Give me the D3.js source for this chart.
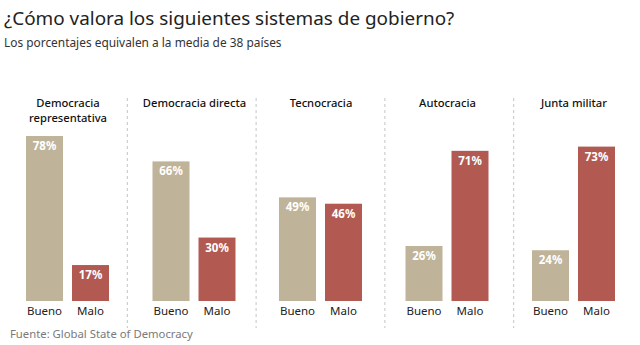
<!DOCTYPE html>
<html>
<head>
<meta charset="utf-8">
<script src="https://cdn.jsdelivr.net/npm/d3@7"></script>
<style>
  body { margin: 0; background: #fff; }
  text { font-family: "Noto Sans", sans-serif; }
</style>
</head>
<body>
<div id="chartContainer"></div>
<script>
// sistemas de gobierno: % que lo valora bueno / malo
const systems = ["Democracia representativa", "Democracia directa", "Tecnocracia", "Autocracia", "Junta militar"];
const titleLines = [["Democracia", "representativa"], ["Democracia directa"], ["Tecnocracia"], ["Autocracia"], ["Junta militar"]];
const ratings = ["Bueno", "Malo"];
const bueno = [78, 66, 49, 26, 24];
const malo = [17, 30, 46, 71, 73];

(function() {
    const fullWidth = 640;
    const fullHeight = 345;
    const colors = {Bueno: "#bfb399", Malo: "#b25a52"};

    const svg = d3.create("svg")
        .attr("width", fullWidth)
        .attr("height", fullHeight)
        .attr("viewBox", [0, 0, fullWidth, fullHeight]);

    // title + subtitle
    svg.append("text")
        .attr("x", 4)
        .attr("y", 25)
        .style("font-size", "18.9px")
        .style("fill", "#222")
        .text("¿Cómo valora los siguientes sistemas de gobierno?");
    svg.append("text")
        .attr("x", 4)
        .attr("y", 47)
        .style("font-size", "11.9px")
        .style("fill", "#333")
        .text("Los porcentajes equivalen a la media de 38 países");

    const data = systems.map((s, i) => ({
        system: s,
        lines: titleLines[i],
        values: [{key: "Bueno", value: bueno[i]}, {key: "Malo", value: malo[i]}]
    }));

    // panels separated by dashed lines
    const panel = d3.scaleBand().domain(systems).range([-2, 642]);
    svg.append("g")
        .selectAll("line")
        .data(systems.slice(1))
        .join("line")
          .attr("x1", d => panel(d) + 0.5)
          .attr("x2", d => panel(d) + 0.5)
          .attr("y1", 98)
          .attr("y2", 328)
          .attr("stroke", "#c4c4c4")
          .attr("stroke-dasharray", "3,3");

    const x0 = d3.scaleBand().domain(systems).range([4.25, 636.75]);
    const x1 = d3.scaleBand().domain(ratings).range([21.75, 104.75]).paddingInner(9 / 46);
    const y = d3.scaleLinear().domain([0, 100]).range([301, 89.5]);

    const groups = svg.append("g")
        .selectAll("g")
        .data(data)
        .join("g")
          .attr("transform", d => `translate(${x0(d.system)},0)`);

    // panel titles
    groups.append("text")
        .attr("text-anchor", "middle")
        .style("font-size", "11.2px")
        .style("font-weight", 500)
        .style("fill", "#111")
        .selectAll("tspan")
        .data(d => d.lines)
        .join("tspan")
          .attr("x", x0.bandwidth() / 2 + 0.5)
          .attr("y", (d, i) => 107 + i * 15)
          .text(d => d);

    groups.selectAll("rect")
        .data(d => d.values)
        .join("rect")
          .attr("x", d => x1(d.key))
          .attr("width", x1.bandwidth())
          .attr("y", d => y(d.value))
          .attr("height", d => y(0) - y(d.value))
          .attr("fill", d => colors[d.key]);

    // value labels inside bars
    groups.selectAll(".val")
        .data(d => d.values)
        .join("text")
          .attr("class", "val")
          .attr("x", d => x1(d.key) + x1.bandwidth() / 2)
          .attr("y", d => y(d.value) + 14)
          .attr("text-anchor", "middle")
          .style("font-size", "11.5px")
          .style("font-weight", "bold")
          .style("fill", "#fff")
          .text(d => d.value + "%");

    // x axis labels
    groups.selectAll(".cat")
        .data(d => d.values)
        .join("text")
          .attr("class", "cat")
          .attr("x", d => x1(d.key) + x1.bandwidth() / 2)
          .attr("y", 315)
          .attr("text-anchor", "middle")
          .style("font-size", "11.5px")
          .style("fill", "#222")
          .text(d => d.key);

    svg.append("text")
        .attr("x", 10)
        .attr("y", 338)
        .style("font-size", "11.3px")
        .style("fill", "#7a7a7a")
        .text("Fuente: Global State of Democracy");

    document.getElementById("chartContainer").append(svg.node());
})();
</script>
</body>
</html>
